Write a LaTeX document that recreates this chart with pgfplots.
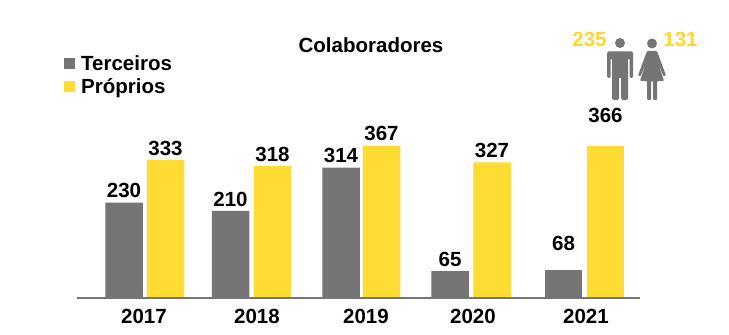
\documentclass[border=0pt]{standalone}
\usepackage{pgfplots}
\pgfplotsset{compat=1.18}
\usepackage{fontspec}
\setmainfont{Liberation Sans}
\definecolor{terc}{HTML}{757575}
\definecolor{prop}{HTML}{FFDC33}
\definecolor{num}{HTML}{FFD62E}
\newcommand{\lab}{\fontsize{20.5}{22}\selectfont\bfseries}
\begin{document}
\begin{tikzpicture}
\clip (0,0) rectangle (729pt,335pt);
\begin{axis}[
  at={(0,0)}, anchor=south west,
  width=729pt, height=335pt, scale only axis,
  axis lines=none, clip=false,
  xmin=0, xmax=729,
  ymin=-89.16, ymax=718.07,
  bar width=37.5,
  /pgf/number format/assume math mode=true,
  nodes near coords,
  every node near coord/.append style={font=\lab, text=black, yshift=1pt},
  legend style={at={(axis cs:64,590)}, anchor=north west, draw=none, fill=none,
    font=\lab, inner sep=0pt, row sep=3pt,
    /tikz/every odd column/.append style={column sep=4pt}},
  legend cell align=left,
  legend image code/.code={\fill[#1] (0pt,-5.5pt) rectangle (11pt,5.5pt);},
]
% Terceiros
\addplot[ybar, bar shift=0pt, draw=none, fill=terc] coordinates {(124,230) (230.5,210) (341,314) (450,65)};
\addlegendentry{Terceiros}
% Proprios
\addplot[ybar, bar shift=0pt, draw=none, fill=prop] coordinates {(165.5,333) (272.5,318) (381.5,367) (492,327)};
\addlegendentry{Próprios}
% The 2021 pair carries its labels higher above the bars
\addplot[ybar, bar shift=0pt, draw=none, fill=terc, forget plot,
  every node near coord/.append style={yshift=15pt}] coordinates {(563.5,68)};
\addplot[ybar, bar shift=0pt, draw=none, fill=prop, forget plot,
  every node near coord/.append style={yshift=19pt}] coordinates {(605.5,366)};
% Baseline
\draw[terc, line width=1.5pt] (axis cs:77,0) -- (axis cs:640,0);
% Year labels
\foreach \x/\y in {144/2017, 257/2018, 366/2019, 473/2020, 586/2021}{
  \edef\temp{\noexpand\node[font=\noexpand\lab, text=black] at (axis cs:\x,-44.5) {\y};}
  \temp
}
\end{axis}
% Title and headcount
\node[font=\lab] at (371pt,290pt) {Colaboradores};
\node[font=\lab, text=num] at (589.5pt,296pt) {235};
\node[font=\lab, text=num] at (680.5pt,296pt) {131};
% Man pictogram
\fill[terc] (620pt,292pt) circle (5pt);
\fill[terc, rounded corners=1.5pt] (607pt,283.5pt) -- (633pt,283.5pt) -- (633pt,257pt) -- (629.5pt,257pt)
  -- (629.5pt,277pt) -- (628pt,277pt) -- (628pt,235pt) -- (621pt,235pt) -- (621pt,258pt) -- (619pt,258pt)
  -- (619pt,235pt) -- (612pt,235pt) -- (612pt,277pt) -- (610.5pt,277pt) -- (610.5pt,257pt) -- (607pt,257pt) -- cycle;
% Woman pictogram
\fill[terc] (652pt,291.5pt) circle (5pt);
\fill[terc, rounded corners=1pt] (647pt,284pt) -- (657pt,284pt) -- (666pt,259.5pt) -- (663.5pt,258.5pt)
  -- (657.5pt,273pt) -- (664pt,254pt) -- (657pt,254pt) -- (657pt,235pt) -- (653pt,235pt) -- (653pt,254pt)
  -- (651pt,254pt) -- (651pt,235pt) -- (647pt,235pt) -- (647pt,254pt) -- (640pt,254pt) -- (646.5pt,273pt)
  -- (640.5pt,258.5pt) -- (638pt,259.5pt) -- cycle;
\end{tikzpicture}
\end{document}
